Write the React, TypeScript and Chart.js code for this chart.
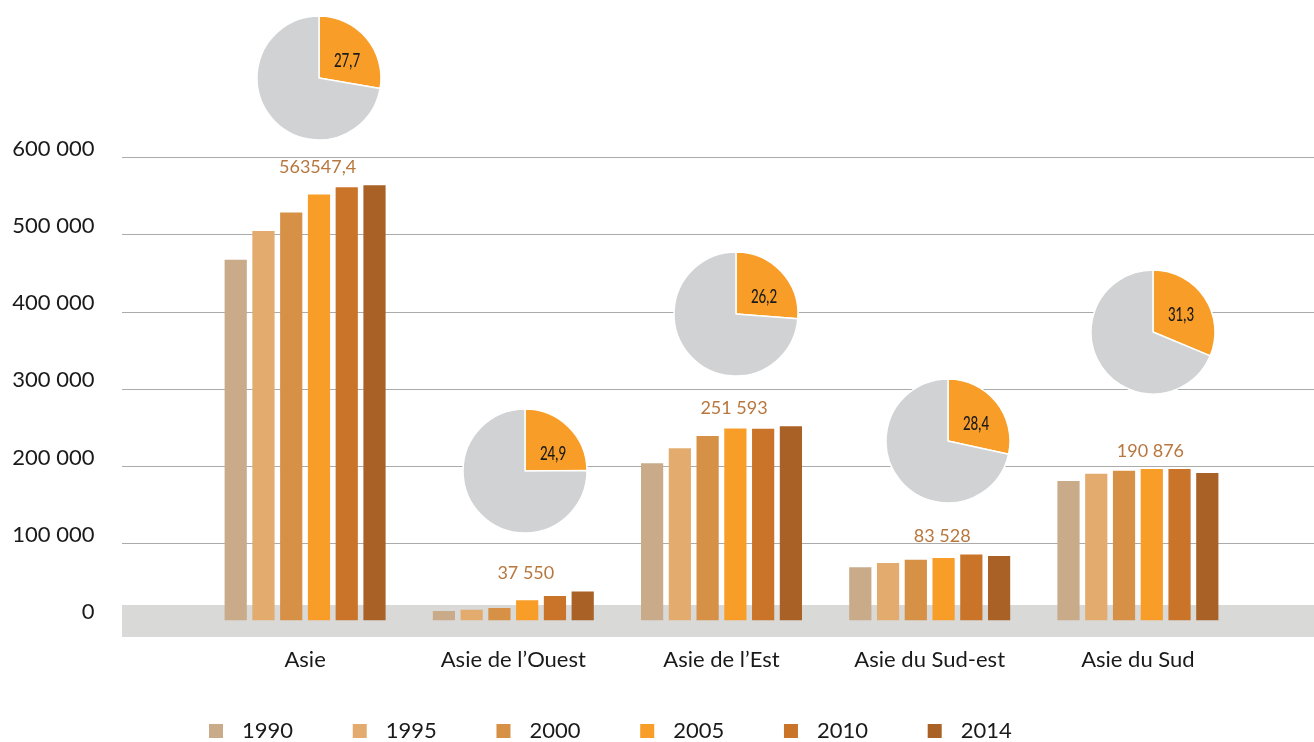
import React, { useEffect, useRef } from "react";
import { Chart, registerables } from "chart.js";

Chart.register(...registerables);

// ---------- data ----------
const categories = ["Asie", "Asie de l’Ouest", "Asie de l’Est", "Asie du Sud-est", "Asie du Sud"];
const years = ["1990", "1995", "2000", "2005", "2010", "2014"];
const values1990 = [467000, 12300, 203700, 68800, 180500];
const values1995 = [504300, 14000, 223100, 74400, 189900];
const values2000 = [528100, 16200, 238700, 78700, 193800];
const values2005 = [551400, 26100, 248600, 80900, 196100];
const values2010 = [560800, 31700, 248300, 85500, 196100];
const values2014 = [563547.4, 37550, 251593, 83528, 190876];
const valueLabels = ["563547,4", "37 550", "251 593", "83 528", "190 876"];
const piePercents = [27.7, 24.9, 26.2, 28.4, 31.3];
const yTickValues = [0, 100000, 200000, 300000, 400000, 500000, 600000];

// ---------- styles / layout ----------
const seriesColors = ["#C9AB8A", "#E3AC6E", "#D69146", "#F79D28", "#CA7429", "#A96126"];
const PIE_ORANGE = "#F79D28";
const PIE_GRAY = "#D1D2D4";
const TEXT = "#1a1a1a";
const LABEL_BROWN = "#B7773F";
// pie inset placement (y expressed in axis units, x as offset from category centre)
const pieAnchorY = [702650, 194170, 396760, 232620, 373460];
const pieOffsetX = [13.6, 11.4, 14.5, 18.3, 15.4];
const PIE_BOX = 132;
const PIE_RADIUS = 62;
const LEGEND_PAD = 51.7;

const seriesValues = [values1990, values1995, values2000, values2005, values2010, values2014];

function formatThousands(v: number): string {
  return String(v).replace(/\B(?=(\d{3})+(?!\d))/g, " ");
}

const backdropPlugin = {
  id: "backdrop",
  afterLayout(chart: any) {
    const lg = chart.legend;
    if (lg) {
      lg.left = chart.chartArea.left - LEGEND_PAD;
      lg.top -= 9;
    }
  },
  beforeDatasetsDraw(chart: any) {
    const { ctx, chartArea } = chart;
    const y = chart.scales.y;
    const left = chartArea.left - 79;
    const right = chart.width;
    ctx.save();
    const z = y.getPixelForValue(0);
    ctx.fillStyle = "#D9D9D8";
    ctx.fillRect(left, z - 15.5, right - left, 32);
    ctx.strokeStyle = "#ABABAB";
    ctx.lineWidth = 1.2;
    y.ticks.forEach((t: any) => {
      if (t.value <= 0) return;
      const py = Math.round(y.getPixelForValue(t.value)) + 0.5;
      ctx.beginPath();
      ctx.moveTo(left, py);
      ctx.lineTo(right, py);
      ctx.stroke();
    });
    ctx.restore();
  },
};

const valueLabelPlugin = {
  id: "valueLabels",
  afterDatasetsDraw(chart: any) {
    const { ctx } = chart;
    const x = chart.scales.x;
    ctx.save();
    ctx.font = "18px Lato";
    ctx.fillStyle = LABEL_BROWN;
    ctx.textAlign = "center";
    ctx.textBaseline = "middle";
    categories.forEach((_, i) => {
      let top = Infinity;
      chart.data.datasets.forEach((_ds: any, di: number) => {
        const bar = chart.getDatasetMeta(di).data[i];
        if (bar) top = Math.min(top, bar.y);
      });
      ctx.fillText(valueLabels[i], x.getPixelForValue(i) + 12.5, top - 18);
    });
    ctx.restore();
  },
};

const pieLabelPlugin = {
  id: "pieLabel",
  afterDatasetsDraw(chart: any) {
    const arc = chart.getDatasetMeta(0).data[0];
    if (!arc) return;
    const { ctx } = chart;
    const text = chart.data.datasets[0].data[0].toFixed(1).replace(".", ",");
    ctx.save();
    ctx.translate(arc.x + 28, arc.y - 16.5);
    ctx.scale(0.72, 1);
    ctx.font = "500 18.5px Lato";
    ctx.fillStyle = TEXT;
    ctx.textAlign = "center";
    ctx.textBaseline = "middle";
    ctx.fillText(text, 0, 0);
    ctx.restore();
  },
};

export default function App() {
  const mainRef = useRef<HTMLCanvasElement | null>(null);
  const pieRefs = useRef<(HTMLCanvasElement | null)[]>([]);

  useEffect(() => {
    Chart.defaults.font.family = "Lato";
    const canvas = mainRef.current!;
    const main = new Chart(canvas, {
      type: "bar",
      data: {
        labels: categories,
        datasets: years.map((yr, i) => ({
          label: yr,
          data: seriesValues[i],
          backgroundColor: seriesColors[i],
          borderWidth: 0,
          categoryPercentage: 0.8,
          barPercentage: 0.8,
        })),
      },
      options: {
        responsive: false,
        animation: false,
        events: [],
        layout: { padding: { left: 0, right: 72, top: 157, bottom: 0 } },
        scales: {
          x: {
            grid: { display: false, drawTicks: false },
            border: { display: false },
            ticks: { color: TEXT, font: { size: 22, family: "Lato" }, padding: 26.4 },
            afterFit: (scale: any) => {
              scale.height = 52.8;
            },
          },
          y: {
            min: 0,
            max: 600000,
            grid: { display: false, drawTicks: false },
            border: { display: false },
            afterBuildTicks: (scale: any) => {
              scale.ticks = yTickValues.map((v) => ({ value: v }));
            },
            ticks: {
              color: TEXT,
              font: { size: 22, family: "Lato" },
              padding: 106.5,
              labelOffset: -8.5,
              callback: (v: any) => formatThousands(Number(v)),
            },
            afterFit: (scale: any) => {
              scale.width = 201;
            },
          },
        },
        plugins: {
          tooltip: { enabled: false },
          legend: {
            position: "bottom",
            align: "start",
            maxHeight: 68.7,
            labels: {
              boxWidth: 30,
              boxHeight: 30,
              padding: LEGEND_PAD,
              color: TEXT,
              font: { size: 22, family: "Lato" },
              generateLabels: (chart: any) =>
                chart.data.datasets.map((ds: any, i: number) => ({
                  text: ds.label,
                  fillStyle: ds.backgroundColor,
                  strokeStyle: "#ffffff",
                  lineWidth: 16,
                  hidden: false,
                  datasetIndex: i,
                  fontColor: TEXT,
                })),
            },
          },
        },
      } as any,
      plugins: [backdropPlugin, valueLabelPlugin],
    });

    const xs: any = main.scales.x;
    const ys: any = main.scales.y;
    const pies = piePercents.map((p, i) => {
      const cv = pieRefs.current[i]!;
      const cx = xs.getPixelForValue(i) + pieOffsetX[i];
      const cy = ys.getPixelForValue(pieAnchorY[i]);
      cv.style.left = `${cx - PIE_BOX / 2}px`;
      cv.style.top = `${cy - PIE_BOX / 2}px`;
      return new Chart(cv, {
        type: "pie",
        data: {
          labels: ["part", "reste"],
          datasets: [
            {
              data: [p, Math.round((100 - p) * 10) / 10],
              backgroundColor: [PIE_ORANGE, PIE_GRAY],
              borderColor: "#ffffff",
              borderWidth: 1.5,
            },
          ],
        },
        options: {
          responsive: false,
          animation: false,
          events: [],
          radius: PIE_RADIUS,
          layout: { padding: 0 },
          plugins: { legend: { display: false }, tooltip: { enabled: false } },
        } as any,
        plugins: [pieLabelPlugin],
      });
    });

    return () => {
      main.destroy();
      pies.forEach((c) => c.destroy());
    };
  }, []);

  return (
    <div
      style={{
        position: "fixed",
        left: 0,
        top: 0,
        width: 1314,
        height: 742,
        overflow: "hidden",
        background: "#ffffff",
      }}
    >
      <canvas ref={mainRef} width={1314} height={742} style={{ position: "absolute", left: 0, top: 0 }} />
      {piePercents.map((_, i) => (
        <canvas
          key={i}
          ref={(el) => {
            pieRefs.current[i] = el;
          }}
          width={PIE_BOX}
          height={PIE_BOX}
          style={{ position: "absolute", left: 0, top: 0, width: PIE_BOX, height: PIE_BOX }}
        />
      ))}
    </div>
  );
}
